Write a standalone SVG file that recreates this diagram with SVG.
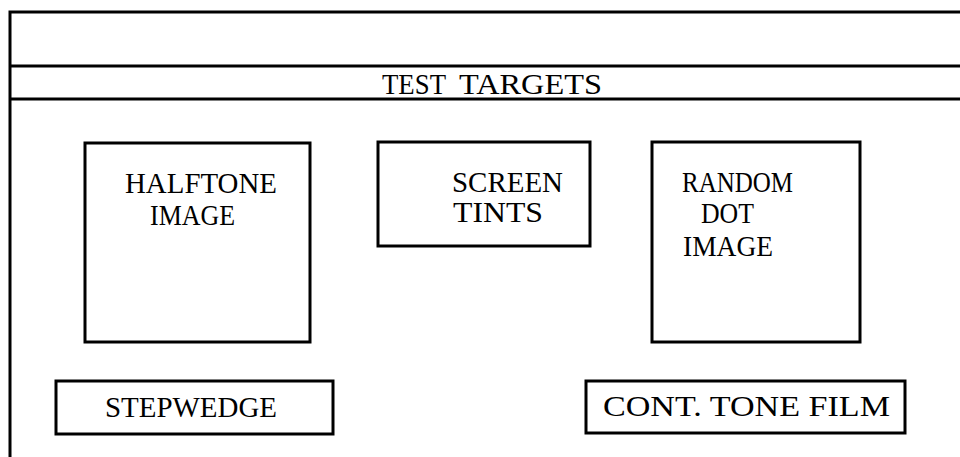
<svg xmlns="http://www.w3.org/2000/svg" width="960" height="457" viewBox="0 0 960 457">
<style>
.frame{stroke:#000;stroke-width:3;fill:none}
.box{stroke:#000;stroke-width:3;fill:#fff}
text{font-family:"Liberation Serif","Times New Roman",serif;font-size:30px;fill:#000}
</style>
<rect width="960" height="457" fill="#fff"/>
<g id="frame">
<path class="frame" d="M10,457 V12 H960"/>
<line class="frame" x1="10" y1="66" x2="960" y2="66"/>
<line class="frame" x1="10" y1="99" x2="960" y2="99"/>
<text x="382" y="94" textLength="64" lengthAdjust="spacingAndGlyphs">TEST</text>
<text x="459" y="94" textLength="143" lengthAdjust="spacingAndGlyphs">TARGETS</text>
</g>
<g id="halftone">
<rect class="box" x="85" y="143" width="225" height="199"/>
<text x="125" y="193" textLength="152" lengthAdjust="spacingAndGlyphs">HALFTONE</text>
<text x="150" y="225" textLength="85" lengthAdjust="spacingAndGlyphs">IMAGE</text>
</g>
<g id="screen">
<rect class="box" x="378" y="142" width="212" height="104"/>
<text x="452" y="192" textLength="111" lengthAdjust="spacingAndGlyphs">SCREEN</text>
<text x="453" y="222" textLength="90" lengthAdjust="spacingAndGlyphs">TINTS</text>
</g>
<g id="random">
<rect class="box" x="652" y="142" width="208" height="200"/>
<text x="682" y="192" textLength="111" lengthAdjust="spacingAndGlyphs">RANDOM</text>
<text x="701" y="223" textLength="53" lengthAdjust="spacingAndGlyphs">DOT</text>
<text x="683" y="256" textLength="90" lengthAdjust="spacingAndGlyphs">IMAGE</text>
</g>
<g id="stepwedge">
<rect class="box" x="56" y="381" width="277" height="53"/>
<text x="105" y="417" textLength="172" lengthAdjust="spacingAndGlyphs">STEPWEDGE</text>
</g>
<g id="contone">
<rect class="box" x="586" y="381" width="319" height="52"/>
<text x="603" y="416" textLength="287" lengthAdjust="spacingAndGlyphs">CONT. TONE FILM</text>
</g>
<g id="connectors"></g>
</svg>
